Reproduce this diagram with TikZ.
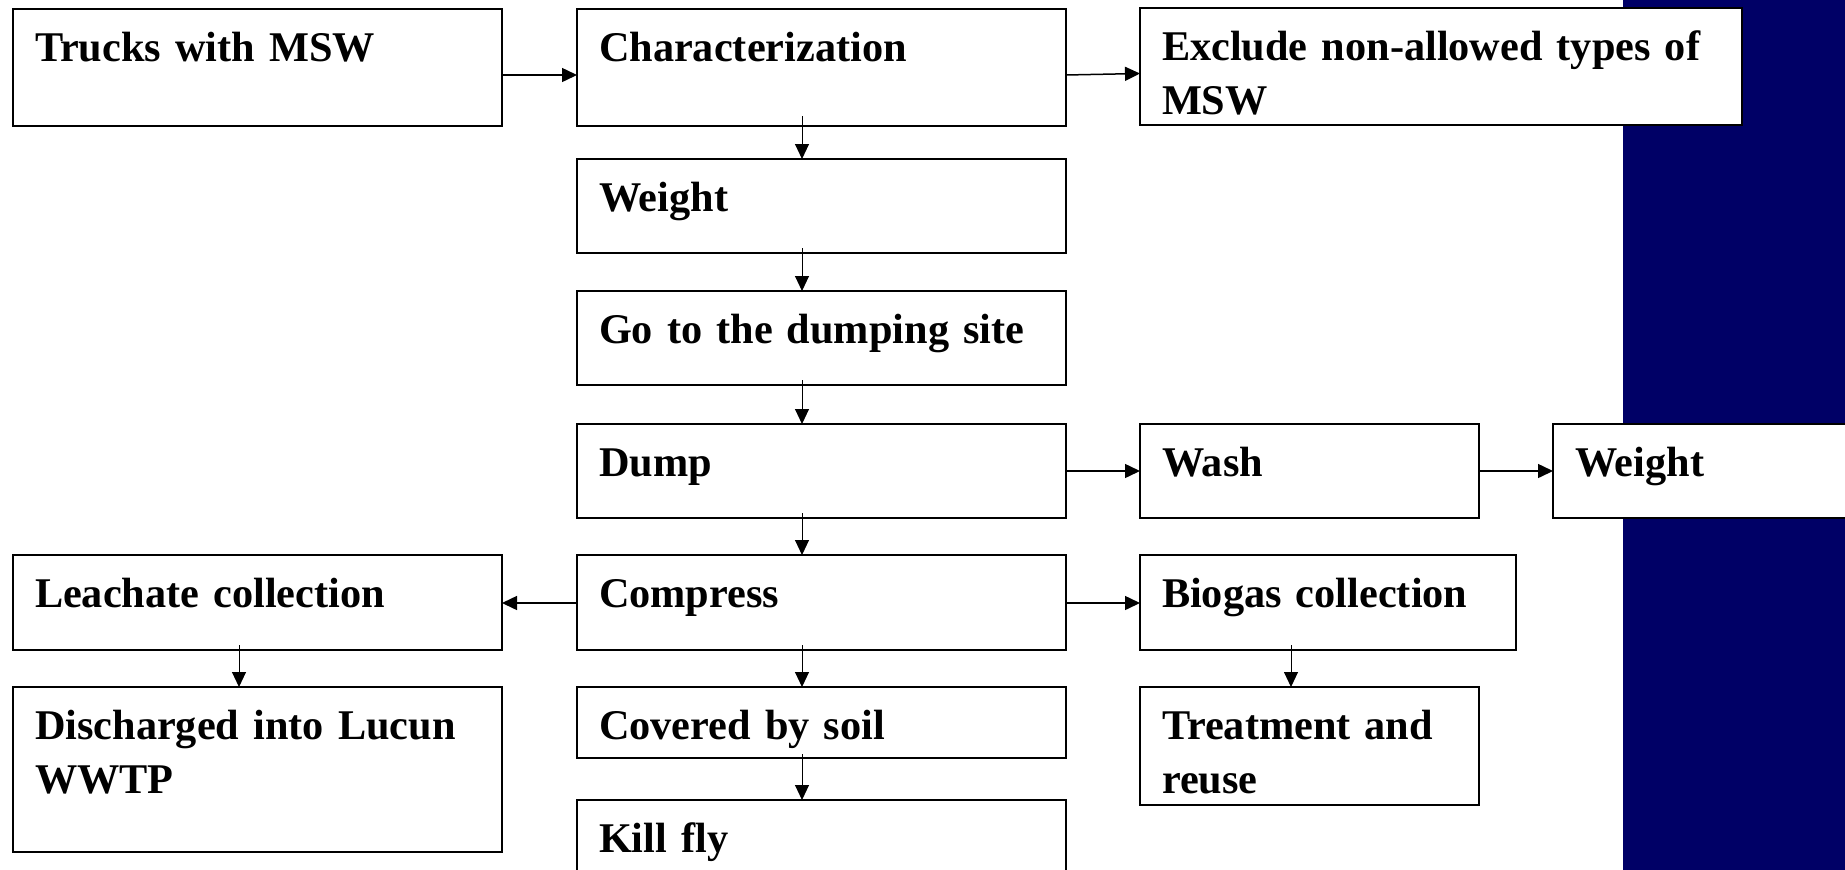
\documentclass[tikz,border=0pt]{standalone}
\usepackage{fontspec}
\setmainfont{Liberation Serif}
\usetikzlibrary{arrows.meta}
\definecolor{barblue}{RGB}{0,0,102}
\tikzset{
  box/.style={draw=black, line width=1.5pt, fill=white, anchor=north west, rectangle,
    inner xsep=22pt, inner ysep=0pt, outer sep=0pt, align=left, text height=52pt},
  harr/.style={line width=1.5pt, -{Triangle[length=15pt,width=14pt]}},
  varr/.style={line width=1pt, -{Triangle[length=15pt,width=14pt]}}
}
\begin{document}
\begin{tikzpicture}[x=1pt, y=-1pt, font=\fontsize{42.3}{54}\selectfont\bfseries]
\useasboundingbox (0,0) rectangle (1845,870);
\fill[barblue] (1623,-5) rectangle (1850,875);
% row 1
\node[box, text width=445pt, text depth=65pt] (trucks) at (13,9) {Trucks with MSW};
\node[box, text width=445pt, text depth=65pt] (char) at (577,9) {Characterization};
\node[box, text width=558pt, text depth=65pt] (excl) at (1140,8) {Exclude non-allowed types of\\MSW};
% middle column
\node[box, text width=445pt, text depth=42pt] (weight) at (577,159) {Weight};
\node[box, text width=445pt, text depth=42pt] (go) at (577,291) {Go to the dumping site};
\node[box, text width=445pt, text depth=42pt] (dump) at (577,424) {Dump};
\node[box, text width=295pt, text depth=42pt] (wash) at (1140,424) {Wash};
\node[box, text width=303pt, text depth=42pt] (weighttwo) at (1553,424) {Weight};
\node[box, text width=445pt, text depth=43pt] (leach) at (13,555) {Leachate collection};
\node[box, text width=445pt, text depth=43pt] (compress) at (577,555) {Compress};
\node[box, text width=332pt, text depth=43pt] (biogas) at (1140,555) {Biogas collection};
\node[box, text width=445pt, text depth=113pt] (disch) at (13,687) {Discharged into Lucun\\WWTP};
\node[box, text width=445pt, text depth=19pt] (covered) at (577,687) {Covered by soil};
\node[box, text width=445pt, text depth=48pt] (kill) at (577,800) {Kill fly};
\node[box, text width=295pt, text depth=66pt] (treat) at (1140,687) {Treatment and\\reuse};
% horizontal arrows
\draw[harr] ([yshift=-7.5pt]trucks.east) -- ([yshift=-7.5pt]char.west);
\draw[harr] ([yshift=-7.5pt]char.east) -- ([yshift=-7pt]excl.west);
\draw[harr] (dump.east) -- (wash.west);
\draw[harr] (wash.east) -- (weighttwo.west);
\draw[harr] ([yshift=-0.5pt]compress.west) -- ([yshift=-0.5pt]leach.east);
\draw[harr] ([yshift=-0.5pt]compress.east) -- ([yshift=-0.5pt]biogas.west);
% vertical arrows
\draw[varr] ([shift={(225pt,10pt)}]char.south west) -- ([xshift=225pt]weight.north west);
\draw[varr] ([shift={(225pt,5pt)}]weight.south west) -- ([xshift=225pt]go.north west);
\draw[varr] ([shift={(225pt,5pt)}]go.south west) -- ([xshift=225pt]dump.north west);
\draw[varr] ([shift={(225pt,5pt)}]dump.south west) -- ([xshift=225pt]compress.north west);
\draw[varr] ([shift={(225pt,5pt)}]compress.south west) -- ([xshift=225pt]covered.north west);
\draw[varr] ([shift={(225pt,4pt)}]covered.south west) -- ([xshift=225pt]kill.north west);
\draw[varr] ([shift={(226pt,5pt)}]leach.south west) -- ([xshift=226pt]disch.north west);
\draw[varr] ([shift={(151pt,5pt)}]biogas.south west) -- ([xshift=151pt]treat.north west);
\end{tikzpicture}
\end{document}
